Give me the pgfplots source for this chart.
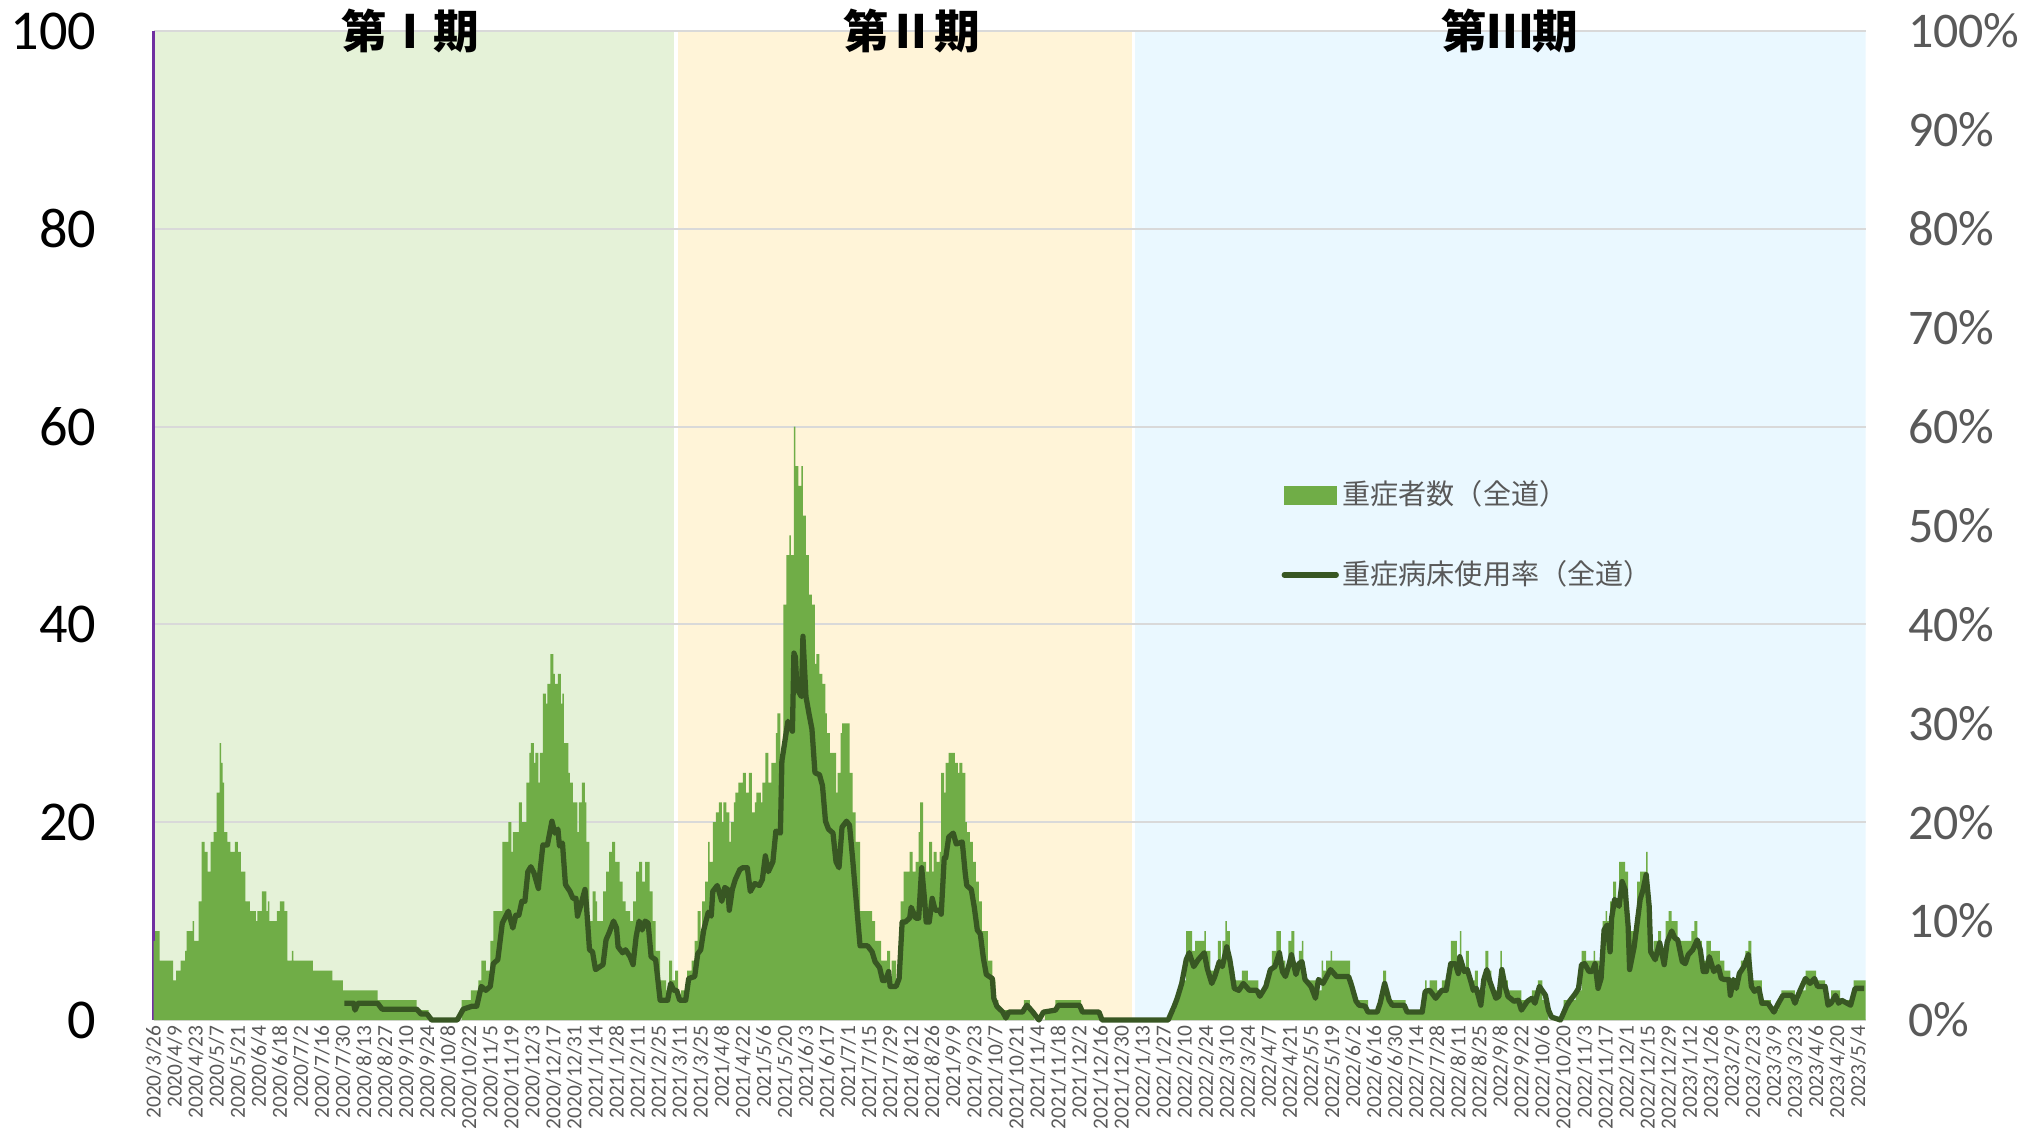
\documentclass[border=0pt]{standalone}
\usepackage{pgfplots}
\pgfplotsset{compat=1.18}
\usepackage{fontspec}
\setmainfont{Carlito}
\newfontfamily\jp{Noto Sans CJK JP}
\definecolor{barg}{RGB}{112,173,71}
\definecolor{linec}{RGB}{56,87,35}
\definecolor{bgone}{RGB}{229,242,216}
\definecolor{bgtwo}{RGB}{255,244,216}
\definecolor{bgthree}{RGB}{234,248,255}
\definecolor{gridc}{RGB}{217,217,217}
\definecolor{txtg}{RGB}{89,89,89}
\definecolor{axp}{RGB}{112,48,160}

\pgfplotsset{base/.style={at={(1.536cm,1.16cm)}, anchor=south west,
  width=17.12cm, height=9.89cm, scale only axis,
  xmin=0, xmax=1139, ymin=0, ymax=100}}

\begin{document}
\begin{tikzpicture}
\useasboundingbox (0,0) rectangle (20.24cm,11.36cm);

% phase shading
\begin{axis}[base, hide axis]
\addplot[fill=bgone, draw=none] coordinates {(0,0) (0,100) (347.5,100) (347.5,0)} -- cycle;
\addplot[fill=bgtwo, draw=none] coordinates {(347.5,0) (347.5,100) (652,100) (652,0)} -- cycle;
\addplot[fill=bgthree, draw=none] coordinates {(652,0) (652,100) (1139,100) (1139,0)} -- cycle;
\addplot[white, line width=1pt] coordinates {(347.5,0) (347.5,100)};
\addplot[white, line width=1pt] coordinates {(652,0) (652,100)};
\end{axis}

% severe cases (left axis)
\begin{axis}[base,
  axis x line*=bottom, axis y line*=left,
  x axis line style={draw=gridc, line width=0.6pt, -},
  y axis line style={draw=axp, line width=0.7pt, -},
  ytick={0,20,...,100}, ymajorgrids,
  grid style={draw=gridc, line width=0.6pt},
  major tick length=0pt,
  /pgf/number format/assume math mode=true,
  yticklabel style={font=\fontsize{16}{16}\selectfont, xshift=-0.45cm},
  xtick={0,14,...,1134},
  xticklabels={2020/3/26,2020/4/9,2020/4/23,2020/5/7,2020/5/21,2020/6/4,2020/6/18,2020/7/2,2020/7/16,2020/7/30,2020/8/13,2020/8/27,2020/9/10,2020/9/24,2020/10/8,2020/10/22,2020/11/5,2020/11/19,2020/12/3,2020/12/17,2020/12/31,2021/1/14,2021/1/28,2021/2/11,2021/2/25,2021/3/11,2021/3/25,2021/4/8,2021/4/22,2021/5/6,2021/5/20,2021/6/3,2021/6/17,2021/7/1,2021/7/15,2021/7/29,2021/8/12,2021/8/26,2021/9/9,2021/9/23,2021/10/7,2021/10/21,2021/11/4,2021/11/18,2021/12/2,2021/12/16,2021/12/30,2022/1/13,2022/1/27,2022/2/10,2022/2/24,2022/3/10,2022/3/24,2022/4/7,2022/4/21,2022/5/5,2022/5/19,2022/6/2,2022/6/16,2022/6/30,2022/7/14,2022/7/28,2022/8/11,2022/8/25,2022/9/8,2022/9/22,2022/10/6,2022/10/20,2022/11/3,2022/11/17,2022/12/1,2022/12/15,2022/12/29,2023/1/12,2023/1/26,2023/2/9,2023/2/23,2023/3/9,2023/3/23,2023/4/6,2023/4/20,2023/5/4},
  xticklabel style={rotate=90, anchor=east, font=\fontsize{6.1}{7}\selectfont, text=txtg, inner sep=1.5pt}]
\addplot[const plot, fill=barg, draw=none] coordinates {
(0,8) (1,9) (4,6) (13,4) (15,5) (18,6) (21,7) (22,9) (26,10) (27,8) (30,12) (32,18) (34,17) (36,15) (38,18) (40,19) (42,23) (44,28) (45,26) (46,24) (47,19) (49,18) (51,17) (54,18) (56,17) (58,15) (61,12) (64,11) (68,10) (69,11) (72,13) (75,11) (76,12) (77,10) (82,11) (84,12) (87,11) (89,6) (92,7) (93,6) (106,5) (119,4) (126,3) (149,2) (175,1) (183,0) (205,2) (211,3) (216,4) (218,6) (221,5) (224,8) (226,11) (232,18) (236,20) (238,17) (239,19) (243,22) (245,20) (248,24) (250,27) (251,28) (253,26) (254,27) (256,24) (257,27) (259,33) (261,32) (262,34) (264,37) (266,35) (267,34) (269,35) (271,32) (272,33) (273,28) (276,25) (277,24) (279,22) (282,19) (283,22) (285,24) (287,22) (288,18) (290,10) (292,13) (294,12) (295,10) (299,13) (301,15) (303,17) (305,18) (307,16) (310,14) (312,12) (314,11) (317,10) (319,12) (321,15) (323,16) (325,14) (327,16) (330,13) (332,10) (334,7) (337,4) (341,3) (343,6) (345,4) (347,5) (349,2) (351,3) (355,5) (358,6) (360,8) (362,11) (364,9) (365,12) (367,14) (369,18) (370,16) (372,20) (374,21) (376,22) (378,20) (379,22) (381,21) (383,18) (384,20) (386,22) (387,23) (389,24) (392,25) (394,23) (396,25) (398,21) (400,22) (401,23) (404,22) (405,24) (407,27) (409,24) (411,26) (414,29) (415,31) (417,26) (419,42) (421,47) (423,49) (424,47) (426,60) (427,56) (429,54) (431,56) (432,51) (434,47) (436,43) (438,42) (440,36) (441,37) (443,35) (445,34) (447,31) (448,29) (450,27) (454,23) (455,25) (457,29) (458,30) (463,25) (465,21) (467,18) (470,11) (478,10) (480,8) (484,6) (488,7) (490,4) (491,6) (494,4) (497,12) (499,15) (503,17) (505,15) (507,16) (509,19) (510,22) (512,16) (514,15) (516,18) (518,15) (519,17) (521,16) (523,17) (524,25) (526,23) (527,26) (529,27) (533,26) (535,25) (536,26) (538,25) (540,20) (541,19) (543,18) (545,16) (547,14) (549,12) (551,9) (555,6) (558,4) (560,2) (562,1) (579,2) (583,1) (586,0) (593,1) (600,2) (617,1) (630,0) (677,1) (680,2) (682,3) (684,4) (687,9) (691,7) (693,8) (699,9) (700,7) (703,5) (708,8) (710,6) (711,8) (713,10) (714,9) (716,5) (719,4) (724,5) (728,4) (735,3) (739,4) (741,5) (744,7) (747,9) (750,6) (753,5) (755,8) (757,9) (759,5) (762,7) (764,8) (765,5) (766,4) (775,3) (777,6) (778,5) (780,6) (783,7) (784,6) (796,4) (798,2) (808,1) (815,2) (818,5) (820,3) (822,2) (833,1) (846,4) (847,3) (849,4) (854,3) (857,4) (863,8) (867,6) (869,9) (870,5) (873,7) (875,4) (879,5) (881,3) (886,7) (888,5) (890,3) (896,7) (897,4) (901,3) (910,2) (917,3) (921,4) (924,2) (928,0) (938,2) (946,3) (950,7) (953,6) (958,7) (959,6) (962,4) (964,10) (966,11) (967,10) (969,12) (971,14) (973,12) (975,16) (979,15) (981,6) (983,9) (987,14) (989,15) (993,17) (994,11) (996,7) (998,8) (1001,9) (1003,7) (1006,10) (1008,11) (1010,10) (1014,8) (1023,9) (1025,10) (1027,8) (1030,6) (1033,8) (1036,7) (1042,6) (1045,5) (1049,4) (1054,5) (1056,6) (1059,7) (1061,8) (1063,4) (1070,2) (1076,1) (1081,2) (1083,3) (1092,2) (1095,3) (1099,5) (1106,4) (1112,2) (1116,3) (1122,2) (1131,4) (1139,4)
} \closedcycle;
\end{axis}

% bed usage rate (right axis)
\begin{axis}[base, clip=false,
  axis x line=none, axis y line*=right,
  y axis line style={draw=none},
  ytick={0,10,...,100},
  yticklabels={0\%,10\%,20\%,30\%,40\%,50\%,60\%,70\%,80\%,90\%,100\%},
  major tick length=0pt,
  yticklabel style={font=\fontsize{14.2}{15}\selectfont, text=txtg, xshift=0.3cm},
  legend cell align=left,
  legend style={at={(axis cs:750,55.3)}, anchor=north west, draw=none, fill=none,
    inner sep=0pt, font=\jp\fontsize{8}{9}\selectfont, text=txtg, row sep=0.36cm,
    nodes={inner xsep=1pt}}]
\addlegendimage{legend image code/.code={\fill[barg] (0cm,-0.085cm) rectangle (0.52cm,0.085cm);}}
\addplot[linec, line width=1.5pt, line join=round,
  legend image code/.code={\draw[linec, line width=1.5pt, line cap=round] (0cm,0cm) -- (0.52cm,0cm);}]
coordinates {
(127,1.7) (133,1.7) (134,1.0) (136,1.7) (149,1.7) (152,1.1) (175,1.1) (178,0.6) (182,0.6) (185,0) (202,0) (206,1.1) (212,1.4) (215,1.4) (218,3.4) (221,3) (224,3.4) (226,5.7) (229,6.1) (232,9.8) (236,11) (239,9.3) (241,10.6) (243,10.6) (245,12) (247,12) (249,15) (251,15.5) (253,14.9) (256,13.3) (257,14.9) (259,17.7) (262,17.7) (265,20.1) (267,18.9) (269,19.3) (270,17.6) (272,17.9) (274,13.7) (277,13) (279,12.3) (281,12.3) (282,10.5) (284,11.5) (287,13.2) (288,11.5) (290,7.1) (292,6.9) (294,5.1) (297,5.4) (299,5.6) (301,8.1) (303,8.8) (306,10) (308,9.3) (309,7.4) (312,6.8) (314,7.1) (317,6.4) (319,5.6) (321,8.4) (323,10) (325,9.1) (327,10) (329,9.8) (331,6.4) (334,6.1) (337,2) (342,2) (344,3.7) (346,3) (348,3) (350,2) (354,2) (356,4.2) (360,4.4) (362,6.7) (364,7.1) (366,9.1) (369,10.9) (371,10.5) (372,13) (375,13.6) (378,12) (380,13.4) (382,13.2) (383,11.1) (385,13.2) (387,14.2) (390,15.2) (392,15.4) (395,15.4) (397,13) (400,13.8) (403,13.6) (405,14.2) (407,16.6) (409,15) (412,16) (414,19.1) (417,18.9) (418,26.2) (420,28.2) (422,30.2) (425,29.2) (426,37.1) (427,36.7) (428,33.5) (431,32.7) (432,38.8) (434,32.7) (436,31) (438,29.4) (440,25) (443,24.8) (445,23.7) (447,20.1) (449,19.3) (452,18.9) (454,16) (456,15.4) (458,19.5) (461,20.1) (463,19.7) (465,16.4) (467,12.8) (470,7.5) (475,7.5) (478,6.9) (480,5.9) (483,5.3) (485,4) (487,4) (489,4.9) (490,3.4) (494,3.4) (496,4.2) (498,9.9) (500,9.9) (503,10.3) (504,11.4) (507,10.3) (509,10.3) (511,15.4) (513,12) (514,9.9) (516,9.9) (518,12.3) (520,11.1) (523,11.1) (524,10.7) (526,16.4) (527,16.4) (529,18.5) (532,18.9) (534,17.8) (538,18) (540,14.8) (541,13.6) (544,13.2) (546,11.4) (548,9.1) (550,8.7) (552,6.3) (554,4.6) (558,4.2) (559,2.2) (561,1.4) (565,0.8) (567,0.2) (569,0.8) (578,0.8) (581,1.5) (585,0.8) (589,0) (592,0.8) (600,1) (602,1.5) (616,1.5) (618,0.8) (629,0.8) (631,0) (675,0) (679,1.4) (681,2.2) (684,3.7) (687,6.1) (689,6.8) (692,5.4) (695,6.1) (699,6.8) (701,5.2) (704,3.7) (706,4.4) (709,5.9) (711,5.4) (714,7.4) (716,6.1) (719,3.2) (722,3) (725,3.7) (729,3) (734,3) (736,2.4) (740,3.4) (743,5.1) (746,5.4) (749,6.8) (751,4.9) (753,4.4) (755,5.4) (757,6.6) (760,4.6) (762,5.7) (764,5.9) (766,4.1) (770,3.4) (773,2.2) (775,4.1) (778,3.7) (783,5.1) (787,4.4) (795,4.4) (797,3.5) (800,1.9) (802,1.5) (806,1.4) (808,0.8) (814,0.8) (816,1.7) (819,3.7) (822,2) (824,1.5) (832,1.5) (834,0.8) (844,0.8) (846,2.9) (849,3) (853,2.2) (857,3) (860,3) (863,5.7) (866,5.7) (868,4.7) (869,6.4) (872,4.9) (874,5.1) (876,4.1) (878,3) (880,3.2) (883,1.5) (885,4.1) (887,5.1) (889,3.9) (893,2.2) (895,2.4) (897,5.1) (899,3.5) (901,2.4) (905,1.9) (908,2) (910,1) (914,1.9) (917,2.2) (919,1.7) (922,3.4) (926,2.5) (928,1) (930,0.3) (936,0) (938,0.7) (940,1.4) (942,1.9) (946,2.7) (948,3.2) (950,5.6) (952,5.7) (955,4.9) (957,4.9) (959,5.7) (961,3.2) (963,4.2) (965,9.1) (967,9.6) (969,6.9) (970,10.3) (972,12.2) (975,11.5) (977,14) (979,13.2) (981,9.5) (982,5.1) (985,7.4) (987,9.8) (989,12.2) (991,13.2) (993,14.7) (995,11.5) (996,6.9) (999,6.1) (1002,7.8) (1005,5.6) (1007,7.9) (1010,9) (1012,8.3) (1014,8.1) (1017,5.9) (1019,5.7) (1021,6.6) (1024,7.1) (1027,8.1) (1029,7.1) (1031,4.9) (1033,4.9) (1035,6.4) (1038,4.9) (1041,5.4) (1043,4.2) (1045,4.1) (1048,4.1) (1049,2.5) (1051,4.1) (1053,3.2) (1055,4.7) (1058,5.4) (1061,6.6) (1063,3.4) (1065,2.9) (1068,3.2) (1070,1.7) (1074,1.7) (1078,0.8) (1081,1.7) (1084,2.5) (1090,2.5) (1092,1.7) (1094,2.5) (1096,3.2) (1099,4.2) (1102,3.7) (1105,4.2) (1107,3.4) (1112,3.4) (1114,1.5) (1116,1.7) (1119,2.5) (1121,1.7) (1123,2) (1129,1.5) (1132,3.2) (1138,3.2)
};
\legend{重症者数（全道）,重症病床使用率（全道）}
\node[font=\jp\bfseries\fontsize{13}{13}\selectfont] at (axis cs:170.7,100) {第Ⅰ期};
\node[font=\jp\bfseries\fontsize{13}{13}\selectfont] at (axis cs:504.4,100) {第Ⅱ期};
\node[font=\jp\bfseries\fontsize{13}{13}\selectfont] at (axis cs:902.4,100) {第Ⅲ期};
\end{axis}
\end{tikzpicture}
\end{document}
